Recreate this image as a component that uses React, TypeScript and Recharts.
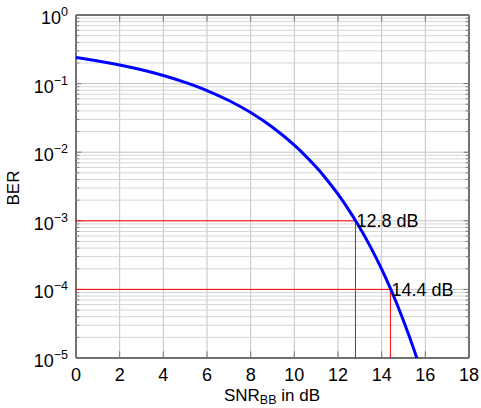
import React from 'react';
import { LineChart, Line, XAxis, YAxis, CartesianGrid, ReferenceLine, ReferenceArea, ReferenceDot } from 'recharts';

const snrDb = [0, 1, 2, 3, 4, 5, 6, 7, 8, 9, 10, 10.5, 11, 11.5, 12, 12.5, 12.8, 13, 13.5, 14, 14.4, 14.5, 15, 15.5, 15.6, 15.7];
const ber = [0.2398, 0.2138, 0.1867, 0.159, 0.1312, 0.1043, 0.0793, 0.0567, 0.0379, 0.0231, 0.01267, 0.00893, 0.00606, 0.00394, 0.00244, 0.00143, 0.00101, 0.000793, 0.00041, 0.000197, 0.0001032, 0.0000871, 0.000035, 0.0000127, 0.0000102, 0.00000816];

const xTicks = [0, 2, 4, 6, 8, 10, 12, 14, 16, 18];
const decades = [1e-5, 1e-4, 1e-3, 1e-2, 1e-1, 1];
const decadeExp = [-5, -4, -3, -2, -1, 0];
const minorMult = [2, 3, 4, 5, 6, 7, 8, 9];
const markerSnr = [12.8, 14.4];
const markerBer = [1e-3, 1e-4];
const markerLabels = ['12.8 dB', '14.4 dB'];

const data = snrDb.map((s, i) => ({ snr: s, ber: ber[i] }));
const markerPaths = markerSnr.map((s, i) => [
  { snr: 0, ber: markerBer[i] },
  { snr: s, ber: markerBer[i] },
  { snr: s, ber: 1e-5 },
]);
const minorValues: number[] = [];
decades.slice(0, 5).forEach((d) => minorMult.forEach((m) => minorValues.push(d * m)));

const FONT = '"Liberation Sans", Arial, Helvetica, sans-serif';

const YTick = (props: any) => {
  const { x, y, payload } = props;
  const idx = decades.findIndex((d) => Math.abs(d - payload.value) / d < 1e-6);
  if (idx < 0) return null;
  const e = decadeExp[idx];
  const es = e < 0 ? '\u2212' + String(-e) : String(e);
  return (
    <text x={x} y={y + 9} textAnchor="end" fontFamily={FONT} fontSize={18} fill="#000">
      <tspan>10</tspan>
      <tspan dy={-8} fontSize={12.5}>{es}</tspan>
    </text>
  );
};

const XTick = (props: any) => {
  const { x, y, payload } = props;
  return (
    <text x={x} y={y + 23} textAnchor="middle" fontFamily={FONT} fontSize={18} fill="#000">
      {payload.value}
    </text>
  );
};

export default function App() {
  return (
    <div style={{ position: 'absolute', left: 0, top: 0, width: 481, height: 408, background: '#fff' }}>
      <LineChart width={481} height={408} data={data} margin={{ top: 15, right: 12, bottom: 0, left: 0 }}>
        <CartesianGrid stroke="#c4c4c4" strokeWidth={1} />
        <XAxis
          dataKey="snr"
          type="number"
          domain={[0, 18]}
          ticks={xTicks}
          height={50}
          tickSize={0}
          tickMargin={0}
          tickLine={false}
          axisLine={false}
          tick={<XTick />}
          interval={0}
          allowDataOverflow
        />
        <YAxis
          dataKey="ber"
          scale="log"
          type="number"
          domain={[1e-5, 1]}
          ticks={decades}
          width={76}
          tickSize={0}
          tickMargin={8}
          tickLine={false}
          axisLine={false}
          tick={<YTick />}
          interval={0}
          allowDataOverflow
        />
        {minorValues.map((v) => (
          <ReferenceLine key={'m' + v} y={v} stroke="#d6d6d6" strokeWidth={1} ifOverflow="hidden" />
        ))}
        {minorValues.map((v) => (
          <ReferenceLine key={'ml' + v} segment={[{ x: 0, y: v }, { x: 0.15, y: v }]} stroke="#777" strokeWidth={1} />
        ))}
        {minorValues.map((v) => (
          <ReferenceLine key={'mr' + v} segment={[{ x: 17.85, y: v }, { x: 18, y: v }]} stroke="#777" strokeWidth={1} />
        ))}
        {decades.map((v) => (
          <ReferenceLine key={'dl' + v} segment={[{ x: 0, y: v }, { x: 0.25, y: v }]} stroke="#777" strokeWidth={1} />
        ))}
        {decades.map((v) => (
          <ReferenceLine key={'dr' + v} segment={[{ x: 17.75, y: v }, { x: 18, y: v }]} stroke="#777" strokeWidth={1} />
        ))}
        {xTicks.map((t) => (
          <ReferenceLine key={'xb' + t} segment={[{ x: t, y: 1e-5 }, { x: t, y: 1.25e-5 }]} stroke="#777" strokeWidth={1} />
        ))}
        {xTicks.map((t) => (
          <ReferenceLine key={'xt' + t} segment={[{ x: t, y: 0.8 }, { x: t, y: 1 }]} stroke="#777" strokeWidth={1} />
        ))}
        <ReferenceArea x1={0} x2={18} y1={1e-5} y2={1} fill="none" stroke="#000" strokeWidth={1} fillOpacity={0} />
        {markerPaths.map((p, i) => (
          <Line
            key={'red' + i}
            data={p}
            dataKey="ber"
            type="linear"
            stroke="#ff0000"
            strokeWidth={1}
            dot={false}
            activeDot={false}
            isAnimationActive={false}
          />
        ))}
        <Line
          dataKey="ber"
          type="monotone"
          stroke="#0000ff"
          strokeWidth={3}
          dot={false}
          isAnimationActive={false}
        />
        {markerSnr.map((s, i) => (
          <ReferenceDot
            key={'d' + s}
            x={s}
            y={markerBer[i]}
            r={0}
            fill="none"
            stroke="none"
            label={{ value: markerLabels[i], position: 'right', offset: 1, fontFamily: FONT, fontSize: 18, fill: '#000' }}
          />
        ))}
      </LineChart>
      <svg width={481} height={408} style={{ position: 'absolute', left: 0, top: 0, pointerEvents: 'none' }}>
        <text x={272} y={401} textAnchor="middle" fontFamily={FONT} fontSize={17} fill="#000">
          <tspan>SNR</tspan>
          <tspan dy={3} fontSize={12.5}>BB</tspan>
          <tspan dy={-3}> in dB</tspan>
        </text>
        <text
          x={19}
          y={188}
          textAnchor="middle"
          fontFamily={FONT}
          fontSize={17}
          fill="#000"
          transform="rotate(-90 19 188)"
        >
          BER
        </text>
      </svg>
    </div>
  );
}
